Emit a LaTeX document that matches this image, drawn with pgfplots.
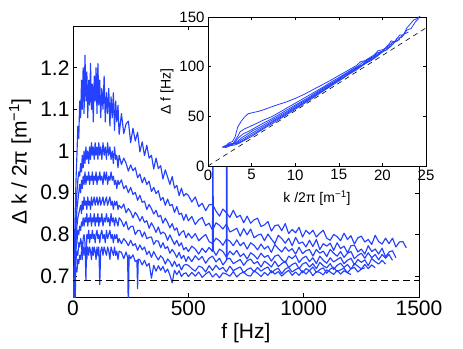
\documentclass[border=0pt]{standalone}
\usepackage{fontspec}
\setmainfont{Liberation Sans}
\usepackage{pgfplots}
\pgfplotsset{compat=1.18}
\usepackage{pgfplotstable}

\definecolor{mblue}{RGB}{35,65,255}

% main panel: Delta k / 2pi against f, seven runs (nan = no sample)
\pgfplotstableread{
f     c1    c2    c3    c4    c5    c6    c7
2     0.60  0.62  0.61  0.63  0.60  0.62  0.61
5     0.74  0.71  0.69  0.70  0.67  0.69  0.66
9     0.84  0.78  0.76  0.60  0.72  0.71  0.69
13    0.93  0.86  0.82  0.78  0.77  0.74  0.72
17    0.99  0.90  0.86  0.82  0.78  0.76  0.71
21    1.06  0.93  0.88  0.84  0.81  0.75  0.74
25    1.03  0.95  0.90  0.85  0.80  0.78  0.73
29    1.12  0.94  0.92  0.86  0.82  0.77  0.75
33    1.08  0.97  0.90  0.87  0.81  0.79  0.74
37    1.17  0.95  0.93  0.85  0.83  0.78  0.76
40    1.10  0.99  0.91  0.88  0.82  0.74  0.75
44    1.20  0.96  0.94  0.86  0.84  0.79  0.77
48    1.09  1.00  0.92  0.89  0.82  0.80  0.75
52    1.23  0.97  0.95  0.87  0.84  0.78  0.77
56    1.12  1.01  0.92  0.88  0.83  0.69  0.76
60    1.19  0.98  0.94  0.86  0.85  0.80  0.74
64    1.08  1.00  0.93  0.89  0.82  0.79  0.77
68    1.17  0.97  0.95  0.87  0.84  0.81  0.75
72    1.11  1.01  0.92  0.88  0.83  0.78  0.77
76    1.21  0.98  0.94  0.86  0.85  0.80  0.76
80    1.10  1.02  0.93  0.89  0.82  0.79  0.74
84    1.16  0.99  0.95  0.87  0.84  0.81  0.77
88    1.07  1.01  0.92  0.88  0.83  0.79  0.75
92    1.18  0.98  0.94  0.89  0.85  0.80  0.77
96    1.12  1.02  0.93  0.87  0.82  0.78  0.76
100   1.20  0.99  0.95  0.88  0.84  0.80  0.74
104   1.09  1.01  0.92  0.89  0.83  0.81  0.77
108   1.21  0.98  0.94  0.87  0.85  0.79  0.75
112   1.11  1.02  0.93  0.88  0.82  0.80  0.77
116   1.17  0.99  0.95  0.89  0.84  0.78  0.68
120   1.08  1.01  0.93  0.87  0.83  0.80  0.76
125   1.15  0.98  0.94  0.88  0.85  0.81  0.77
130   1.10  1.02  0.92  0.89  0.82  0.79  0.75
135   1.18  0.99  0.95  0.87  0.84  0.80  0.77
140   1.07  1.01  0.93  0.88  0.83  0.78  0.76
145   1.14  0.98  0.95  0.89  0.85  0.81  0.75
150   1.09  1.02  0.92  0.87  0.83  0.79  0.77
155   1.15  0.99  0.94  0.88  0.84  0.80  0.76
160   1.06  1.01  0.93  0.89  0.82  0.81  0.74
165   1.13  0.98  0.95  0.87  0.85  0.79  0.77
170   1.08  1.00  0.93  0.88  0.83  0.80  0.76
175   1.14  0.97  0.94  0.86  0.84  0.78  0.75
180   1.05  1.01  0.92  0.88  0.82  0.80  0.77
185   1.12  0.98  0.93  0.87  0.84  0.79  0.75
190   1.07  0.99  0.91  0.88  0.83  0.80  0.76
195   1.11  0.96  0.93  0.86  0.82  0.78  0.74
200   1.04  0.99  0.92  0.87  0.84  0.79  0.76
210   1.090 0.968 0.931 0.863 0.833 0.778 0.757
220   1.042 0.983 0.910 0.873 0.819 0.790 0.742
230   1.065 0.971 0.917 0.852 0.831 0.783 0.758
237   nan   nan   nan   nan   nan   nan   0.744
240   1.072 0.952 0.900 0.862 0.811 0.773 0.600
243   nan   nan   nan   nan   nan   nan   0.751
250   1.020 0.967 0.913 0.854 0.819 0.786 0.742
260   1.055 0.953 0.896 0.840 0.820 0.773 0.751
270   1.024 0.960 0.901 0.853 0.800 0.778 0.735
277   nan   nan   nan   nan   nan   nan   0.738
280   1.045 0.936 0.882 0.845 0.809 0.762 0.670
283   nan   nan   nan   nan   nan   nan   0.741
290   0.998 0.945 0.894 0.832 0.810 0.775 0.739
300   1.022 0.924 0.877 0.843 0.794 0.763 0.727
310   0.989 0.937 0.880 0.829 0.806 0.770 0.738
320   1.014 0.920 0.860 0.833 0.790 0.752 0.724
330   0.983 0.928 0.872 0.815 0.793 0.760 0.731
340   0.990 0.903 0.862 0.828 0.794 0.745 0.695
350   0.957 0.913 0.849 0.818 0.776 0.759 0.726
360   0.983 0.898 0.858 0.805 0.785 0.748 0.712
370   0.958 0.905 0.842 0.818 0.784 0.739 0.725
380   0.965 0.882 0.846 0.801 0.768 0.749 0.714
390   0.933 0.889 0.827 0.806 0.780 0.743 0.723
400   0.955 0.870 0.839 0.801 0.766 0.729 0.709
410   0.938 0.885 0.829 0.786 0.771 0.741 0.717
420   0.920 0.869 0.816 0.799 0.755 0.735 0.703
430   0.939 0.872 0.826 0.787 0.764 0.723 0.684
440   0.911 0.853 0.810 0.776 0.756 0.736 0.714
450   0.918 0.867 0.816 0.786 0.745 0.723 0.704
460   0.893 0.848 0.797 0.772 0.757 0.729 0.713
470   0.911 0.851 0.805 0.780 0.742 0.715 0.699
480   0.892 0.834 0.809 0.763 0.750 0.726 0.706
490   0.898 0.848 0.792 0.769 0.735 0.728 0.708
500   0.894 0.833 0.803 0.759 0.747 0.726 0.699
515   0.878 0.843 0.791 0.772 0.735 0.718 0.709
530   0.890 0.824 0.802 0.765 0.749 0.712 0.700
545   0.867 0.835 0.785 0.753 0.739 0.724 0.710
560   0.875 0.841 0.793 0.767 0.747 0.721 0.697
575   0.857 0.821 0.800 0.757 0.731 0.710 0.705
590   0.871 0.827 0.783 0.769 0.743 0.725 0.711
605   0.872 0.810 0.778 0.759 0.748 0.714 0.698
606   nan   nan   nan   1.600 nan   nan   nan
608   nan   nan   nan   0.762 nan   nan   nan
620   0.856 0.828 0.791 0.750 0.734 0.726 0.706
635   0.844 0.822 0.785 0.765 0.743 0.716 0.696
650   0.861 0.813 0.774 0.759 0.727 0.721 0.708
665   0.852 0.825 0.789 0.746 0.738 0.710 0.705
666   nan   nan   nan   nan   1.600 nan   nan
668   nan   nan   nan   nan   0.741 nan   nan
680   0.841 0.806 0.784 0.760 0.743 0.724 0.700
695   0.858 0.810 0.773 0.751 0.730 0.713 0.711
710   0.841 0.815 0.787 0.762 0.735 0.718 0.698
725   0.846 0.796 0.773 0.747 0.740 0.722 0.706
740   0.828 0.814 0.781 0.754 0.726 0.708 0.710
755   0.844 0.799 0.765 0.741 0.737 0.716 0.702
770   0.827 0.813 0.780 0.756 0.741 0.720 0.700
785   0.835 0.792 0.774 0.750 0.730 0.710 0.713
800   0.839 0.798 0.763 0.741 0.735 0.721 0.707
815   0.819 0.801 0.777 0.755 0.722 0.712 0.699
830   0.823 0.785 0.765 0.745 0.736 0.718 0.709
845   0.831 0.801 0.772 0.750 0.730 0.722 0.702
860   0.808 0.789 0.757 0.736 0.722 0.708 0.713
875   0.821 0.778 0.776 0.748 0.736 0.715 0.705
890   0.823 0.798 0.766 0.751 0.723 0.719 0.711
905   0.809 0.790 0.758 0.740 0.730 0.706 0.700
920   0.826 0.779 0.770 0.732 0.736 0.717 0.708
935   0.802 0.791 0.760 0.748 0.721 0.721 0.714
950   0.812 0.773 0.766 0.742 0.728 0.710 0.702
965   0.804 0.793 0.753 0.750 0.732 0.716 0.710
980   0.817 0.778 0.769 0.733 0.718 0.720 0.702
995   0.794 0.782 0.754 0.743 0.729 0.708 0.713
1010  0.810 0.770 0.761 0.748 0.733 0.718 0.705
1025  0.801 0.786 0.764 0.735 0.722 0.713 0.714
1040  0.810 0.771 0.748 0.744 0.730 0.722 0.701
1055  0.794 0.788 0.764 0.730 0.718 0.709 0.711
1070  0.803 0.764 0.755 0.748 0.733 0.716 0.709
1085  0.810 0.778 0.760 0.738 0.725 0.720 0.703
1100  0.791 0.772 0.747 0.731 0.720 0.707 0.715
1115  0.786 0.779 0.764 0.744 0.730 0.717 0.710
1130  0.800 0.762 0.755 0.734 0.716 0.721 0.704
1145  0.795 0.780 0.748 0.740 0.726 0.711 0.714
1160  0.785 0.766 0.759 0.745 0.731 0.715 0.705
1175  0.803 0.772 0.745 0.730 0.721 0.719 0.713
1190  0.788 0.756 0.755 0.738 0.728 0.708 0.708
1205  0.797 0.773 0.759 0.743 0.717 0.718 0.704
1220  0.777 0.774 0.742 0.727 0.730 0.721 nan
1235  0.792 0.758 0.750 0.740 0.724 0.710 nan
1250  0.796 0.765 0.755 0.733 0.717 0.717 nan
1265  0.782 0.753 0.743 0.739 0.728 0.720 nan
1280  0.788 0.773 0.756 0.725 0.718 nan   nan
1295  0.776 0.759 0.744 0.742 0.727 nan   nan
1310  0.798 0.765 0.752 0.735 0.720 nan   nan
1325  0.783 0.753 0.739 0.729 nan   nan   nan
1340  0.777 0.767 0.752 0.738 nan   nan   nan
1355  0.791 0.746 0.743 0.729 nan   nan   nan
1370  0.778 0.758 0.752 nan   nan   nan   nan
1385  0.791 0.761 0.738 nan   nan   nan   nan
1400  0.770 0.744 nan   nan   nan   nan   nan
1415  0.782 nan   nan   nan   nan   nan   nan
1430  0.783 nan   nan   nan   nan   nan   nan
1445  0.768 nan   nan   nan   nan   nan   nan
}\mainD

\pgfplotsset{
  mlab/.style={
    scale only axis,
    axis background/.style={fill=white},
    tick align=inside,
    xtick pos=both, ytick pos=both,
    scaled ticks=false,
    /pgf/number format/1000 sep={},
    /pgf/number format/assume math mode=true,
    axis line style={line width=0.6pt},
    every tick/.style={black, line width=0.5pt},
  },
  run/.style={mblue, line width=1.15pt, line join=round, mark=none},
  irun/.style={mblue, line width=0.8pt, line join=round, mark=none},
}

\begin{document}
\begin{tikzpicture}[x=1pt,y=1pt]
\path[use as bounding box] (0,0) rectangle (463,348);

\begin{axis}[mlab,
  at={(73pt,51pt)}, anchor=south west,
  width=346pt, height=271pt,
  xmin=0, xmax=1500, ymin=0.65, ymax=1.3,
  xtick={0,500,1000,1500},
  ytick={0.7,0.8,0.9,1,1.1,1.2},
  major tick length=4pt,
  tick label style={font=\fontsize{21}{21}\selectfont},
  label style={font=\fontsize{21}{21}\selectfont},
  xlabel={f [Hz]},
  ylabel={Δ k / 2π [m\textsuperscript{−1}]},
  xlabel style={at={(axis description cs:0.5,-0.133)}, anchor=center},
  ylabel style={at={(axis description cs:-0.153,0.5)}, anchor=center},
]
\foreach \c in {c1,c2,c3,c4,c5,c6,c7}{
  \addplot[run] table[x=f, y=\c] {\mainD};
}
\addplot[black, dash pattern=on 7pt off 4pt, line width=0.7pt] coordinates {(0,0.69) (1500,0.69)};
\end{axis}

\begin{axis}[mlab,
  at={(208pt,182pt)}, anchor=south west,
  width=218pt, height=149pt,
  xmin=0, xmax=25, ymin=0, ymax=150,
  xtick={0,5,10,15,20,25},
  ytick={0,50,100,150},
  major tick length=3pt,
  tick label style={font=\fontsize{15}{15}\selectfont},
  label style={font=\fontsize{14}{14}\selectfont},
  xlabel={k /2π [m\textsuperscript{−1}]},
  ylabel={Δ f [Hz]},
  xlabel style={at={(axis description cs:0.5,-0.215)}, anchor=center},
  ylabel style={at={(axis description cs:-0.188,0.5)}, anchor=center},
]
\addplot[irun] coordinates {(1.7,19.5)(2.0,20)(2.4,23.3)(2.8,24.6)(3.1,29)(3.4,39)(3.8,45)(4.2,49.4)(4.6,52.6)(5.2,53.9)(5.8,55)(6.5,57)(7.3,59.6)(8.1,62)(9,64.5)(10,68)(11,72)(12,76.7)(13,81.3)(14,86)(15,91)(16,96)(17,101)(17.5,105)(18,106)(19,111.6)(19.5,116)(20,117)(20.5,119)(21,126)(21.4,125)(22,132)(22.4,131.5)(22.8,139)(23.2,143)(23.6,147)(24,148.5)(24.4,151.7)};
\addplot[irun] coordinates {(1.8,19)(2.1,18.7)(2.5,21.9)(2.9,23)(3.3,28.3)(3.7,34.6)(4.2,37.4)(4.8,39.7)(5.5,42.6)(6.3,46)(7.3,49.6)(8.2,54.1)(9.2,59.2)(10.2,64.2)(11.2,69.3)(12.2,74.3)(13.2,79.4)(14.2,85)(15.2,90)(16.2,95.5)(17.2,100.6)(18,106)(18.7,108)(19.4,113.9)(20,115.2)(20.6,121.5)(21.2,122.9)(21.7,128.7)(22.2,129.4)(22.8,136.8)(23.3,138.5)(23.8,145.3)(24.2,148.6)};
\addplot[irun] coordinates {(1.7,19.5)(2.1,20.7)(2.5,21.9)(3.0,22.7)(3.5,28.5)(4.0,32.2)(4.6,34.6)(5.3,38)(6.2,42.5)(7.2,47)(8.2,52.1)(9.2,57.2)(10.3,62.8)(11.4,68.4)(12.5,74.5)(13.6,80.6)(14.7,86.2)(15.8,92.3)(16.8,98.4)(17.6,100.9)(18.3,107.7)(19,109.6)(19.8,115)(20.5,117)(21.1,124.3)(21.7,125.7)(22.3,132)(23,134.9)};
\addplot[irun] coordinates {(1.6,18.9)(2.0,19.1)(2.4,22.3)(2.9,22.1)(3.4,24.9)(3.9,28.7)(4.5,32)(5.2,35.9)(6.1,39.9)(7.1,45)(8.1,50)(9.1,55.1)(10.2,61.2)(11.3,66.8)(12.4,72.9)(13.5,79.1)(14.6,84.7)(15.5,91.2)(16.3,93.6)(17.1,99.6)(17.9,102.5)(18.7,109)(19.5,111.9)(20.3,117.9)(21,120.8)(21.6,126.1)(22,127.3)};
\addplot[irun] coordinates {(1.8,19)(2.2,20.2)(2.7,22)(3.2,22.8)(3.7,25.6)(4.3,28.9)(5.0,32.8)(5.9,37.3)(6.9,42.4)(7.9,47.7)(8.9,53)(10,58.8)(11.1,64.7)(12.2,70.8)(13.3,76.9)(14.4,83.6)(15.4,88.1)(16.3,94.6)(17.2,98.1)(18.1,104.6)(19,108.1)(19.8,114)(20.5,117)(21,120.8)};
\addplot[irun] coordinates {(2.0,19.1)(2.4,20.3)(2.9,22.1)(3.4,22.9)(4.0,25.7)(4.7,29.6)(5.5,33.6)(6.5,39.1)(7.5,44.7)(8.6,50.3)(9.7,56.4)(10.8,62.5)(11.9,68.7)(13,74.8)(14.1,80.9)(15.1,87.5)(16,91.5)(16.9,97.5)(17.8,101.5)(18.6,106.9)(19.3,109.8)(20,114.7)};
\addplot[irun] coordinates {(2.2,19.2)(2.6,20.5)(3.1,21.2)(3.6,23)(4.2,25.9)(4.9,29.2)(5.7,33.7)(6.6,38.7)(7.6,43.8)(8.7,49.9)(9.8,56)(10.9,62.1)(12,68.2)(13.1,74.8)(14.2,81)(15.2,86.5)(16.1,92)(17,96.5)(17.9,102.5)(18.7,106)(19.3,110.3)};
\addplot[black, dash pattern=on 5pt off 4pt, line width=0.6pt] coordinates {(0,0) (25,139)};
\end{axis}
\end{tikzpicture}
\end{document}
